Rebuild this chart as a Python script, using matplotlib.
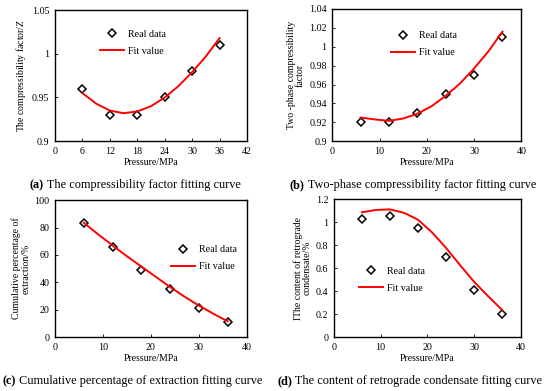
import numpy as np
import matplotlib
matplotlib.use('Agg')
import matplotlib.pyplot as plt
from matplotlib.ticker import FuncFormatter

plt.rcParams['font.family'] = 'Liberation Serif'
plt.rcParams['mathtext.fontset'] = 'custom'
plt.rcParams['mathtext.it'] = 'Liberation Serif:italic'

# measured points (pressure, MPa)
p_real = [6, 12, 18, 24, 30, 36]
z_real = [0.96, 0.93, 0.93, 0.95, 0.98, 1.01]
z2_real = [0.92, 0.92, 0.93, 0.95, 0.97, 1.01]
ext_real = [83, 66, 49, 35, 21, 11]
cond_real = [1.03, 1.05, 0.95, 0.70, 0.41, 0.20]

# fitted curves
p_fit = [6, 9, 12, 15, 18, 21, 24, 27, 30, 33, 36]
z_fit = [0.955, 0.943, 0.935, 0.932, 0.934, 0.940, 0.950, 0.963, 0.979, 0.997, 1.018]
z2_fit = [0.925, 0.923, 0.9215, 0.924, 0.929, 0.937, 0.948, 0.961, 0.977, 0.995, 1.016]
ext_fit = [83.5, 75, 67, 59, 51.5, 44, 36.5, 29.5, 23, 17, 11.5]
cond_fit = [1.085, 1.105, 1.11, 1.08, 1.02, 0.91, 0.775, 0.625, 0.48, 0.355, 0.235]

panels = [
    dict(y_real=z_real, y_fit=z_fit, ylabel='The compressibility factor/$\\it{Z}$',
         xticks=[0, 6, 12, 18, 24, 30, 36, 42], yticks=[0.9, 0.95, 1, 1.05],
         pos=[0.100, 0.639, 0.349, 0.335], leg=(0.215, 0.88),
         tag='(a)', cap=' The compressibility factor fitting curve', cap_xy=(0.0545, 0.519)),
    dict(y_real=z2_real, y_fit=z2_fit, ylabel='Two -phase compressibility\nfactor',
         xticks=[0, 10, 20, 30, 40], yticks=[0.9, 0.92, 0.94, 0.96, 0.98, 1, 1.02, 1.04],
         pos=[0.604, 0.639, 0.344, 0.338], leg=(0.29, 0.86),
         tag='(b)', cap=' Two-phase compressibility factor fitting curve', cap_xy=(0.527, 0.519)),
    dict(y_real=ext_real, y_fit=ext_fit, ylabel='Cumulative percentage of\nextraction/%',
         xticks=[0, 10, 20, 30, 40], yticks=[0, 20, 40, 60, 80, 100],
         pos=[0.100, 0.138, 0.349, 0.350], leg=(0.585, 0.70),
         tag='(c)', cap=' Cumulative percentage of extraction fitting curve', cap_xy=(0.004, 0.017)),
    dict(y_real=cond_real, y_fit=cond_fit, ylabel='IThe content of retrograde\ncondensate/%',
         xticks=[0, 10, 20, 30, 40], yticks=[0, 0.2, 0.4, 0.6, 0.8, 1, 1.2],
         pos=[0.607, 0.138, 0.340, 0.353], leg=(0.115, 0.54),
         tag='(d)', cap=' The content of retrograde condensate fitting curve', cap_xy=(0.504, 0.017)),
]

fig = plt.figure(figsize=(5.5, 3.91), dpi=100)

for pn in panels:
    ax = fig.add_axes(pn['pos'])
    ax.plot(p_real, pn['y_real'], linestyle='none', marker='D', markersize=4.5,
            markerfacecolor='white', markeredgecolor='black', markeredgewidth=1.1,
            label='Real data')
    ax.plot(p_fit, pn['y_fit'], color='red', linewidth=1.4, label='Fit value')
    ax.set_xlim(pn['xticks'][0], pn['xticks'][-1])
    ax.set_ylim(pn['yticks'][0], pn['yticks'][-1])
    ax.set_xticks(pn['xticks'])
    ax.set_yticks(pn['yticks'])
    ax.yaxis.set_major_formatter(FuncFormatter(lambda v, _: '{:g}'.format(round(v, 4))))
    ax.tick_params(direction='in', length=2, width=0.6, labelsize=7.2, pad=4)
    for s in ax.spines.values():
        s.set_linewidth(1.0)
    ax.set_xlabel('Pressure/MPa', fontsize=7, labelpad=2)
    ax.set_ylabel(pn['ylabel'], fontsize=7, labelpad=3, linespacing=1.0)
    ax.legend(loc='upper left', bbox_to_anchor=pn['leg'], frameon=False, fontsize=7.2,
              handlelength=2.4, handletextpad=0.4, labelspacing=0.8, borderaxespad=0)

    # caption: bold tag followed by plain text
    t1 = fig.text(pn['cap_xy'][0], pn['cap_xy'][1], pn['tag'], fontsize=8.8,
                  fontweight='bold')
    ax.annotate(pn['cap'], xy=(1, 0), xycoords=t1, va='bottom', ha='left', fontsize=8.8,
                annotation_clip=False)

fig.savefig('out.png', dpi=100)
